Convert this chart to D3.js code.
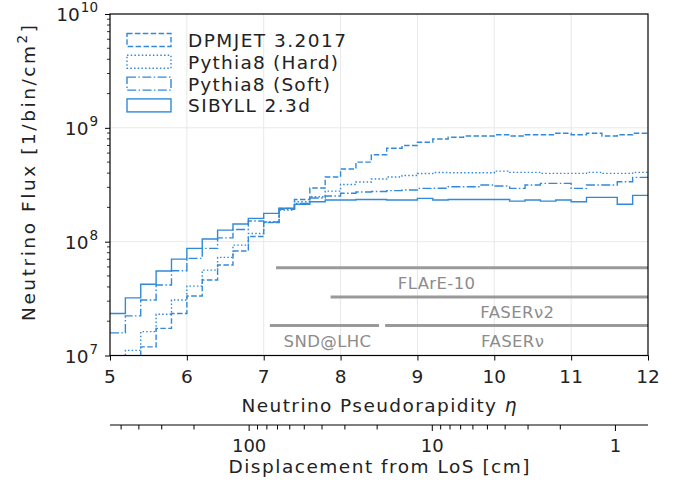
<!DOCTYPE html>
<html><head><meta charset="utf-8">
<script src="https://cdn.jsdelivr.net/npm/d3@7"></script>
<style>
body{margin:0;background:#fff;}
text{font-family:"DejaVu Sans",sans-serif;fill:#222;}
</style></head>
<body><svg id="c" width="674" height="484"></svg>
<script>
// ---- data ----
const binEdges = d3.range(36).map(i => +(5 + 0.2 * i).toFixed(1));
const dpmjet = [6e6, 9e6, 1.19e7, 1.73e7, 2.34e7, 3.33e7, 4.60e7, 6.23e7, 8.27e7, 1.11e8,
  1.47e8, 1.96e8, 2.35e8, 2.96e8, 3.70e8, 4.35e8, 5.00e8, 5.80e8, 6.61e8, 6.99e8,
  7.46e8, 7.97e8, 8.26e8, 8.47e8, 8.47e8, 8.70e8, 8.47e8, 8.70e8, 8.70e8, 8.95e8,
  8.70e8, 8.95e8, 8.47e8, 8.70e8, 8.95e8];
const pythiaHard = [7e6, 1.11e7, 1.62e7, 2.30e7, 3.07e7, 4.07e7, 5.62e7, 7.28e7, 9.33e7, 1.18e8,
  1.49e8, 1.90e8, 2.24e8, 2.48e8, 2.78e8, 3.18e8, 3.34e8, 3.55e8, 3.70e8, 3.81e8,
  3.97e8, 4.05e8, 4.03e8, 4.03e8, 4.03e8, 4.17e8, 4.06e8, 4.06e8, 3.98e8, 3.98e8,
  3.98e8, 4.06e8, 3.98e8, 3.98e8, 4.06e8];
const pythiaSoft = [1.58e7, 2.23e7, 3.07e7, 4.16e7, 5.55e7, 7.13e7, 8.73e7, 1.08e8, 1.28e8, 1.52e8,
  1.49e8, 1.92e8, 2.17e8, 2.42e8, 2.52e8, 2.66e8, 2.73e8, 2.76e8, 2.81e8, 2.84e8,
  2.94e8, 2.95e8, 3.04e8, 3.04e8, 3.15e8, 3.08e8, 2.94e8, 3.15e8, 3.25e8, 3.25e8,
  2.94e8, 3.15e8, 3.15e8, 3.36e8, 3.67e8];
const sibyll = [2.34e7, 3.21e7, 4.22e7, 5.52e7, 7.03e7, 8.73e7, 1.054e8, 1.264e8, 1.428e8, 1.602e8,
  1.774e8, 1.963e8, 2.13e8, 2.24e8, 2.32e8, 2.32e8, 2.35e8, 2.35e8, 2.32e8, 2.32e8,
  2.40e8, 2.32e8, 2.35e8, 2.35e8, 2.35e8, 2.35e8, 2.27e8, 2.32e8, 2.27e8, 2.32e8,
  2.24e8, 2.45e8, 2.45e8, 2.13e8, 2.55e8];
const seriesNames = ["DPMJET 3.2017", "Pythia8 (Hard)", "Pythia8 (Soft)", "SIBYLL 2.3d"];
const seriesValues = [dpmjet, pythiaHard, pythiaSoft, sibyll];
const detectorNames = ["FLArE-10", "FASERν2", "SND@LHC", "FASERν"];
const detectorFlux = [5.9e7, 3.27e7, 1.83e7, 1.83e7];
const detectorEtaStart = [7.16, 7.87, 7.08, 8.58];
const detectorEtaEnd = [12, 12, 8.5, 12];
const xTicks = [5, 6, 7, 8, 9, 10, 11, 12];
const yTicks = [1e7, 1e8, 1e9, 1e10];
const yTickExp = ["7", "8", "9", "10"];
const dispTicks = [500, 400, 300, 200, 100, 90, 80, 70, 60, 50, 40, 30, 20, 10, 9, 8, 7, 6, 5, 4, 3, 2, 1];
const dispLabels = [100, 10, 1];

// ---- layout ----
const X0 = 110, X1 = 648, Y0 = 14, Y1 = 355.5;
const color = "#3189d9";
const dashes = ["5.5,2.4", "1.5,2.2", "9,2.4,1.5,2.4", null];
const FS = 18.5;

const svg = d3.select("#c");
const x = d3.scaleLinear().domain([5, 12]).range([X0, X1]);
const y = d3.scaleLog().domain([1e7, 1e10]).range([Y1, Y0]);
const xd = d3.scaleLog().domain([575, 0.664]).range([X0, X1]);

svg.append("defs").append("clipPath").attr("id", "clip")
  .append("rect").attr("x", X0).attr("y", Y0).attr("width", X1 - X0).attr("height", Y1 - Y0);

// grid
const g = svg.append("g");
g.selectAll(".gx").data(xTicks.slice(1, -1)).enter().append("line")
  .attr("x1", d => x(d)).attr("x2", d => x(d)).attr("y1", Y0).attr("y2", Y1)
  .attr("stroke", "#e8e8e8").attr("stroke-width", 1);
g.selectAll(".gy").data(yTicks.slice(1, -1)).enter().append("line")
  .attr("x1", X0).attr("x2", X1).attr("y1", d => y(d)).attr("y2", d => y(d))
  .attr("stroke", "#e8e8e8").attr("stroke-width", 1);

// detector bands
const det = svg.append("g");
detectorNames.forEach((n, i) => {
  det.append("line")
    .attr("x1", x(detectorEtaStart[i])).attr("x2", x(detectorEtaEnd[i]))
    .attr("y1", y(detectorFlux[i])).attr("y2", y(detectorFlux[i]))
    .attr("stroke", "#9a9a9a").attr("stroke-width", 3);
});
const labelEta = [9.25, 10.3, 7.83, 10.24];
detectorNames.forEach((n, i) => {
  det.append("text").attr("x", x(labelEta[i])).attr("y", y(detectorFlux[i]) + 21)
    .attr("text-anchor", "middle").attr("font-size", 16.5).attr("letter-spacing", 0.4)
    .style("fill", "#8c8c8c").text(n);
});

// histograms
const line = d3.line().x(d => x(d[0])).y(d => y(d[1])).curve(d3.curveStepAfter);
const hg = svg.append("g").attr("clip-path", "url(#clip)");
seriesValues.forEach((vals, si) => {
  const pts = binEdges.map((e, i) => [e, vals[Math.min(i, vals.length - 1)]]);
  hg.append("path").attr("d", line(pts)).attr("fill", "none")
    .attr("stroke", color).attr("stroke-width", 1.4)
    .attr("stroke-dasharray", dashes[si]);
});

// frame
svg.append("rect").attr("x", X0).attr("y", Y0).attr("width", X1 - X0).attr("height", Y1 - Y0)
  .attr("fill", "none").attr("stroke", "#000").attr("stroke-width", 1.2);

// x axis
const xa = svg.append("g").attr("transform", `translate(0,${Y1})`)
  .call(d3.axisBottom(x).tickValues(xTicks).tickFormat("").tickSize(5));
xa.select(".domain").remove();
svg.selectAll(".xl").data(xTicks).enter().append("text")
  .attr("x", d => x(d)).attr("y", 383).attr("text-anchor", "middle").attr("font-size", FS)
  .text(d => d);
svg.append("text").attr("x", 241.5).attr("y", 412).attr("text-anchor", "start")
  .attr("font-size", FS).attr("textLength", 275).attr("lengthAdjust", "spacing")
  .html('Neutrino Pseudorapidity <tspan font-style="italic">η</tspan>');

// y axis
const ya = svg.append("g").attr("transform", `translate(${X0},0)`);
ya.call(d3.axisLeft(y).tickValues(yTicks).tickFormat("").tickSize(5));
ya.select(".domain").remove();
const minors = [];
[1e7, 1e8, 1e9].forEach(b => { for (let k = 2; k <= 9; k++) minors.push(b * k); });
ya.selectAll(".mn").data(minors).enter().append("line")
  .attr("x1", -3).attr("x2", 0).attr("y1", d => y(d)).attr("y2", d => y(d))
  .attr("stroke", "#000").attr("stroke-width", 0.8);
yTicks.forEach((t, i) => {
  const tx = svg.append("text").attr("x", X0 - 12).attr("y", y(t) + 7)
    .attr("text-anchor", "end").attr("font-size", FS);
  tx.append("tspan").text("10");
  tx.append("tspan").attr("font-size", 13.5).attr("dy", -9).attr("dx", 1).text(yTickExp[i]);
});
svg.append("text").attr("transform", "translate(35,321) rotate(-90)")
  .attr("text-anchor", "start").attr("font-size", FS)
  .attr("textLength", 296).attr("lengthAdjust", "spacing")
  .html('Neutrino Flux [1/bin/cm<tspan font-size="13.5" dy="-8">2</tspan><tspan dy="8">]</tspan>');

// secondary axis
const sa = svg.append("g").attr("transform", "translate(0,425)");
sa.append("line").attr("x1", X0).attr("x2", X1).attr("stroke", "#000").attr("stroke-width", 1);
sa.selectAll(".st").data(dispTicks).enter().append("line")
  .attr("x1", d => xd(d)).attr("x2", d => xd(d)).attr("y1", 0)
  .attr("y2", d => dispLabels.includes(d) ? 6 : 4.5)
  .attr("stroke", "#000").attr("stroke-width", 1);
sa.selectAll(".sl").data(dispLabels).enter().append("text")
  .attr("x", d => xd(d)).attr("y", 26.5).attr("text-anchor", "middle").attr("font-size", 18)
  .text(d => d);
svg.append("text").attr("x", 228.5).attr("y", 473).attr("text-anchor", "start")
  .attr("font-size", FS).attr("textLength", 301).attr("lengthAdjust", "spacing")
  .text("Displacement from LoS [cm]");

// legend
const legendWidths = [158, 150, 142, 122];
const lg = svg.append("g");
seriesNames.forEach((n, i) => {
  const cy = 40 + i * 21.8;
  lg.append("rect").attr("x", 127).attr("y", cy - 6.5).attr("width", 44).attr("height", 13)
    .attr("fill", "none").attr("stroke", color).attr("stroke-width", 1.4)
    .attr("stroke-dasharray", dashes[i]);
  lg.append("text").attr("x", 188).attr("y", cy + 7).attr("font-size", FS)
    .attr("textLength", legendWidths[i]).attr("lengthAdjust", "spacing").text(n);
});
</script></body></html>
